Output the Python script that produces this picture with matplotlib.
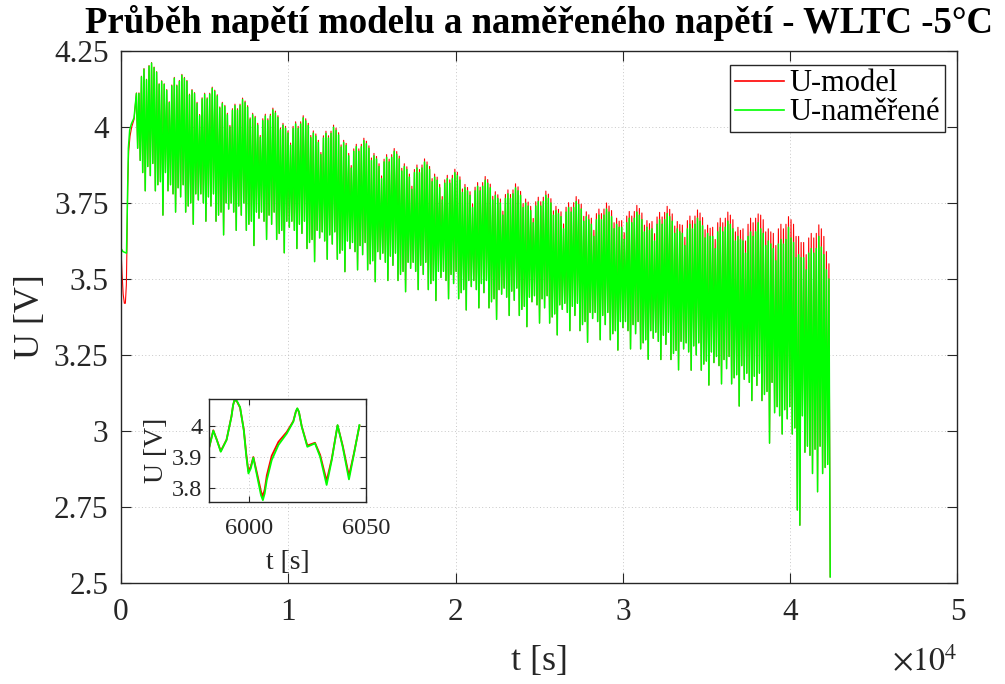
import numpy as np
import matplotlib
matplotlib.use("Agg")
import matplotlib.pyplot as plt

plt.rcParams["font.family"] = ["Liberation Serif", "DejaVu Serif"]
plt.rcParams["mathtext.fontset"] = "stix"

# ---- start of the test: rest, then relaxation before the first drive cycle ----
t_start_meas = [0, 5, 120, 330, 380, 440, 520, 620, 780]
u_start_meas = [4.19, 3.60, 3.59, 3.585, 3.75, 3.93, 3.99, 4.01, 4.03]
t_start_model = [0, 60, 130, 200, 260, 320, 360, 400, 460, 540, 640, 780]
u_start_model = [3.60, 3.52, 3.45, 3.42, 3.42, 3.48, 3.62, 3.80, 3.92, 3.97, 4.00, 4.025]

# ---- repeated WLTC cycles: per cycle 12 samples of local maxima / minima ----
cycle_t0 = 920.0
cycle_len = 1813.0
samples_per_cycle = 12

meas_hi = [
    [4.11, 4.11, 4.165, 4.19, 4.155, 4.20, 4.21, 4.195, 4.18, 4.14, 4.15, 4.14],
    [4.12, 4.08, 4.135, 4.16, 4.135, 4.15, 4.17, 4.16, 4.15, 4.105, 4.12, 4.11],
    [4.077, 4.037, 4.092, 4.107, 4.092, 4.107, 4.127, 4.117, 4.102, 4.062, 4.077, 4.067],
    [4.04, 4.00, 4.055, 4.07, 4.055, 4.07, 4.09, 4.08, 4.065, 4.025, 4.04, 4.03],
    [4.006, 3.966, 4.021, 4.036, 4.021, 4.036, 4.056, 4.046, 4.031, 3.991, 4.006, 3.996],
    [3.98, 3.94, 3.995, 4.01, 3.995, 4.01, 4.03, 4.02, 4.005, 3.965, 3.98, 3.97],
    [3.949, 3.909, 3.964, 3.979, 3.964, 3.979, 3.999, 3.989, 3.974, 3.934, 3.949, 3.939],
    [3.905, 3.865, 3.92, 3.935, 3.92, 3.935, 3.955, 3.945, 3.93, 3.89, 3.905, 3.895],
    [3.87, 3.83, 3.885, 3.90, 3.885, 3.90, 3.92, 3.91, 3.895, 3.855, 3.87, 3.86],
    [3.835, 3.795, 3.85, 3.865, 3.85, 3.865, 3.885, 3.875, 3.86, 3.82, 3.835, 3.825],
    [3.80, 3.76, 3.815, 3.83, 3.815, 3.83, 3.85, 3.84, 3.825, 3.785, 3.80, 3.79],
    [3.775, 3.735, 3.79, 3.805, 3.79, 3.805, 3.825, 3.815, 3.80, 3.76, 3.775, 3.765],
    [3.75, 3.71, 3.765, 3.78, 3.765, 3.78, 3.80, 3.79, 3.775, 3.735, 3.75, 3.74],
    [3.725, 3.685, 3.74, 3.755, 3.74, 3.755, 3.775, 3.765, 3.75, 3.71, 3.725, 3.715],
    [3.705, 3.665, 3.72, 3.735, 3.72, 3.735, 3.755, 3.745, 3.73, 3.69, 3.705, 3.695],
    [3.68, 3.64, 3.695, 3.71, 3.695, 3.71, 3.73, 3.72, 3.705, 3.665, 3.68, 3.67],
    [3.67, 3.63, 3.685, 3.70, 3.685, 3.70, 3.72, 3.71, 3.695, 3.655, 3.67, 3.66],
    [3.665, 3.625, 3.68, 3.695, 3.68, 3.695, 3.715, 3.705, 3.69, 3.65, 3.665, 3.655],
    [3.65, 3.61, 3.665, 3.68, 3.665, 3.68, 3.70, 3.69, 3.675, 3.635, 3.65, 3.64],
    [3.64, 3.60, 3.655, 3.67, 3.655, 3.67, 3.69, 3.68, 3.665, 3.625, 3.64, 3.63],
    [3.625, 3.585, 3.64, 3.655, 3.64, 3.655, 3.685, 3.665, 3.65, 3.61, 3.625, 3.615],
    [3.60, 3.56, 3.615, 3.63, 3.615, 3.63, 3.67, 3.635, 3.62, 3.57, 3.58, 3.57],
    [3.57, 3.53, 3.585, 3.60, 3.585, 3.60, 3.64, 3.605, 3.58, 3.53, 3.50],
]

meas_lo = [
    [3.93, 3.89, 3.85, 3.79, 3.87, 3.84, 3.88, 3.79, 3.81, 3.82, 3.71, 3.85],
    [3.79, 3.81, 3.78, 3.72, 3.80, 3.77, 3.81, 3.72, 3.74, 3.75, 3.68, 3.78],
    [3.76, 3.78, 3.75, 3.69, 3.77, 3.74, 3.78, 3.69, 3.71, 3.72, 3.645, 3.75],
    [3.73, 3.75, 3.72, 3.66, 3.74, 3.71, 3.75, 3.66, 3.68, 3.69, 3.61, 3.72],
    [3.70, 3.72, 3.69, 3.63, 3.71, 3.68, 3.72, 3.63, 3.65, 3.66, 3.586, 3.69],
    [3.67, 3.69, 3.66, 3.60, 3.68, 3.65, 3.69, 3.60, 3.62, 3.63, 3.557, 3.66],
    [3.635, 3.655, 3.625, 3.565, 3.645, 3.615, 3.655, 3.565, 3.585, 3.595, 3.524, 3.625],
    [3.60, 3.62, 3.59, 3.53, 3.61, 3.58, 3.62, 3.53, 3.55, 3.56, 3.491, 3.59],
    [3.565, 3.585, 3.555, 3.495, 3.575, 3.545, 3.585, 3.495, 3.515, 3.525, 3.458, 3.555],
    [3.535, 3.555, 3.525, 3.465, 3.545, 3.515, 3.555, 3.465, 3.485, 3.495, 3.429, 3.525],
    [3.505, 3.525, 3.495, 3.435, 3.515, 3.485, 3.525, 3.435, 3.455, 3.465, 3.398, 3.495],
    [3.475, 3.495, 3.465, 3.405, 3.485, 3.455, 3.495, 3.405, 3.425, 3.435, 3.367, 3.465],
    [3.45, 3.47, 3.44, 3.38, 3.46, 3.43, 3.47, 3.38, 3.40, 3.41, 3.343, 3.44],
    [3.425, 3.445, 3.415, 3.355, 3.435, 3.405, 3.445, 3.355, 3.375, 3.385, 3.316, 3.415],
    [3.40, 3.42, 3.39, 3.33, 3.41, 3.38, 3.42, 3.33, 3.35, 3.36, 3.292, 3.39],
    [3.37, 3.39, 3.36, 3.30, 3.38, 3.35, 3.39, 3.30, 3.32, 3.33, 3.266, 3.36],
    [3.34, 3.36, 3.33, 3.27, 3.35, 3.32, 3.36, 3.27, 3.29, 3.30, 3.236, 3.33],
    [3.305, 3.325, 3.295, 3.235, 3.315, 3.285, 3.325, 3.235, 3.255, 3.265, 3.201, 3.295],
    [3.27, 3.29, 3.26, 3.20, 3.28, 3.25, 3.29, 3.20, 3.22, 3.23, 3.151, 3.26],
    [3.225, 3.245, 3.215, 3.155, 3.235, 3.205, 3.245, 3.155, 3.175, 3.185, 3.082, 3.215],
    [3.17, 3.19, 3.16, 3.10, 3.18, 3.15, 3.19, 3.10, 3.12, 3.13, 2.96, 3.16],
    [3.06, 3.08, 3.05, 2.99, 3.07, 3.04, 3.08, 2.99, 3.01, 2.74, 2.69, 3.05],
    [2.93, 2.95, 2.92, 2.86, 2.94, 2.80, 2.95, 2.86, 2.88, 2.89, 2.52],
]

model_hi = [
    [4.112, 4.112, 4.167, 4.192, 4.157, 4.202, 4.212, 4.197, 4.182, 4.142, 4.152, 4.142],
    [4.123, 4.083, 4.138, 4.163, 4.138, 4.153, 4.173, 4.163, 4.153, 4.108, 4.123, 4.113],
    [4.081, 4.041, 4.096, 4.111, 4.096, 4.111, 4.131, 4.121, 4.106, 4.066, 4.081, 4.071],
    [4.045, 4.005, 4.06, 4.075, 4.06, 4.075, 4.095, 4.085, 4.07, 4.03, 4.045, 4.035],
    [4.012, 3.972, 4.027, 4.042, 4.027, 4.042, 4.062, 4.052, 4.037, 3.997, 4.012, 4.002],
    [3.987, 3.947, 4.002, 4.017, 4.002, 4.017, 4.037, 4.027, 4.012, 3.972, 3.987, 3.977],
    [3.956, 3.916, 3.971, 3.986, 3.971, 3.986, 4.006, 3.996, 3.981, 3.941, 3.956, 3.946],
    [3.913, 3.873, 3.928, 3.943, 3.928, 3.943, 3.963, 3.953, 3.938, 3.898, 3.913, 3.903],
    [3.879, 3.839, 3.894, 3.909, 3.894, 3.909, 3.929, 3.919, 3.904, 3.864, 3.879, 3.869],
    [3.845, 3.805, 3.86, 3.875, 3.86, 3.875, 3.895, 3.885, 3.87, 3.83, 3.845, 3.835],
    [3.811, 3.771, 3.826, 3.841, 3.826, 3.841, 3.861, 3.851, 3.836, 3.796, 3.811, 3.801],
    [3.787, 3.747, 3.802, 3.817, 3.802, 3.817, 3.837, 3.827, 3.812, 3.772, 3.787, 3.777],
    [3.763, 3.723, 3.778, 3.793, 3.778, 3.793, 3.813, 3.803, 3.788, 3.748, 3.763, 3.753],
    [3.739, 3.699, 3.754, 3.769, 3.754, 3.769, 3.789, 3.779, 3.764, 3.724, 3.739, 3.729],
    [3.721, 3.681, 3.736, 3.751, 3.736, 3.751, 3.771, 3.761, 3.746, 3.706, 3.721, 3.711],
    [3.70, 3.66, 3.715, 3.73, 3.715, 3.73, 3.75, 3.74, 3.725, 3.685, 3.70, 3.69],
    [3.692, 3.652, 3.707, 3.722, 3.707, 3.722, 3.742, 3.732, 3.717, 3.677, 3.692, 3.682],
    [3.689, 3.649, 3.704, 3.719, 3.704, 3.719, 3.739, 3.729, 3.714, 3.674, 3.689, 3.679],
    [3.677, 3.637, 3.692, 3.707, 3.692, 3.707, 3.727, 3.717, 3.702, 3.662, 3.677, 3.667],
    [3.67, 3.63, 3.685, 3.70, 3.685, 3.70, 3.72, 3.71, 3.695, 3.655, 3.67, 3.66],
    [3.665, 3.625, 3.68, 3.70, 3.685, 3.70, 3.714, 3.71, 3.695, 3.655, 3.665, 3.655],
    [3.65, 3.61, 3.665, 3.68, 3.665, 3.68, 3.705, 3.695, 3.68, 3.64, 3.64, 3.62],
    [3.62, 3.58, 3.635, 3.65, 3.635, 3.65, 3.678, 3.665, 3.64, 3.59, 3.55],
]

# ---- detail window around t = 6000 s ----
t_zoom = [5982.8, 5984.5, 5986.0, 5987.7, 5990.2, 5992.3, 5993.0, 5993.6, 5994.6,
          5996.0, 5997.6, 5998.7, 5999.6, 6000.6, 6001.7, 6003.4, 6005.0, 6005.8,
          6006.6, 6007.5, 6009.6, 6012.5, 6016.1, 6018.9, 6020.0, 6020.6, 6021.3,
          6022.5, 6024.9, 6028.2, 6030.4, 6033.2, 6035.4, 6037.9, 6040.1, 6042.8,
          6045.0, 6047.3]
u_zoom_meas = [3.932, 3.984, 3.954, 3.916, 3.954, 4.029, 4.066, 4.083, 4.080,
               4.060, 3.985, 3.900, 3.846, 3.862, 3.897, 3.835, 3.776, 3.760,
               3.782, 3.825, 3.889, 3.938, 3.975, 4.013, 4.046, 4.056, 4.045,
               3.997, 3.932, 3.943, 3.900, 3.809, 3.889, 4.002, 3.932, 3.827,
               3.911, 4.002]
u_zoom_model = [3.932, 3.985, 3.955, 3.918, 3.955, 4.030, 4.066, 4.082, 4.079,
                4.058, 3.988, 3.906, 3.853, 3.868, 3.899, 3.843, 3.788, 3.772,
                3.795, 3.840, 3.903, 3.948, 3.980, 4.015, 4.046, 4.055, 4.044,
                3.998, 3.936, 3.945, 3.906, 3.822, 3.893, 4.001, 3.936, 3.838,
                3.913, 4.000]


def interleave(hi_rows, lo_rows):
    hi = np.concatenate([np.asarray(r, float) for r in hi_rows])
    lo = np.concatenate([np.asarray(r, float) for r in lo_rows])
    step = cycle_len / samples_per_cycle
    t_hi = cycle_t0 + step * np.arange(hi.size)
    t = np.column_stack([t_hi, t_hi + step / 2]).ravel()
    u = np.column_stack([hi, lo]).ravel()
    return t, u


t_c, u_c_meas = interleave(meas_hi, meas_lo)
_, u_c_model = interleave(model_hi, meas_lo)

t_meas = np.concatenate([t_start_meas, t_c])
u_meas = np.concatenate([u_start_meas, u_c_meas])
t_model = np.concatenate([t_start_model, t_c])
u_model = np.concatenate([u_start_model, u_c_model])

RED = "#ff0000"
GREEN = "#00ff00"
AXC = "#262626"

fig = plt.figure(figsize=(10.05, 6.84), dpi=100)
ax = fig.add_axes([0.1204, 0.1477, 0.8323, 0.7778])
ax.plot(t_model, u_model, color=RED, lw=0.8, label="U-model")
ax.plot(t_meas, u_meas, color=GREEN, lw=1.1, label="U-naměřené")

x_ticks = [0, 1e4, 2e4, 3e4, 4e4, 5e4]
x_tick_labels = ["0", "1", "2", "3", "4", "5"]
y_ticks = [2.5, 2.75, 3.0, 3.25, 3.5, 3.75, 4.0, 4.25]
y_tick_labels = ["2.5", "2.75", "3", "3.25", "3.5", "3.75", "4", "4.25"]

ax.set_xlim(0, 5e4)
ax.set_ylim(2.5, 4.25)
ax.set_xticks(x_ticks)
ax.set_xticklabels(x_tick_labels)
ax.set_yticks(y_ticks)
ax.set_yticklabels(y_tick_labels)
ax.tick_params(axis="both", direction="in", length=7, width=0.8, top=True,
               right=True, labelsize=22.5, color=AXC, labelcolor=AXC)
ax.tick_params(axis="x", pad=11)
ax.tick_params(axis="y", pad=9)
ax.grid(True, linestyle=(0, (1, 2.5)), color="#b0b0b0", lw=0.7, alpha=0.7)
for sp in ax.spines.values():
    sp.set_color(AXC)
    sp.set_linewidth(1.0)

ax.set_xlabel("t [s]", fontsize=26, color=AXC, labelpad=13)
ax.set_ylabel("U [V]", fontsize=26, color=AXC, labelpad=5)
ax.set_title("Průběh napětí modelu a naměřeného napětí - WLTC -5°C",
             fontsize=26.5, fontweight="bold", pad=13)
ax.text(1.0, -0.15, r"$\times10^{4}$", transform=ax.transAxes, ha="right",
        va="center", fontsize=23, color=AXC)

leg = ax.legend(loc="upper right", bbox_to_anchor=(0.985, 0.974), fontsize=22,
                handlelength=1.6, handletextpad=0.2, borderpad=0.15,
                labelspacing=0.0, borderaxespad=0.0, fancybox=False,
                framealpha=1.0, edgecolor=AXC)
leg.get_frame().set_linewidth(1.0)
for line in leg.get_lines():
    line.set_linewidth(1.2)

# detail window
axi = fig.add_axes([0.2083, 0.2665, 0.1556, 0.1497])
axi.plot(t_zoom, u_zoom_model, color=RED, lw=1.3)
axi.plot(t_zoom, u_zoom_meas, color=GREEN, lw=1.3)
axi.set_xlim(5982.8, 6050)
axi.set_ylim(3.755, 4.085)
axi.set_xticks([6000, 6050])
axi.set_xticklabels(["6000", "6050"])
axi.set_yticks([3.8, 3.9, 4.0])
axi.set_yticklabels(["3.8", "3.9", "4"])
axi.tick_params(axis="both", direction="in", length=4, width=0.8, top=True,
                right=True, labelsize=17.5, color=AXC, labelcolor=AXC)
axi.tick_params(axis="x", pad=12)
axi.tick_params(axis="y", pad=5)
axi.grid(True, linestyle=(0, (1, 2.5)), color="#b0b0b0", lw=0.7, alpha=0.7)
for sp in axi.spines.values():
    sp.set_color(AXC)
    sp.set_linewidth(1.0)
axi.set_xlabel("t [s]", fontsize=20, color=AXC, labelpad=8)
axi.set_ylabel("U [V]", fontsize=20, color=AXC, labelpad=2)

fig.savefig("out.png", dpi=100)
